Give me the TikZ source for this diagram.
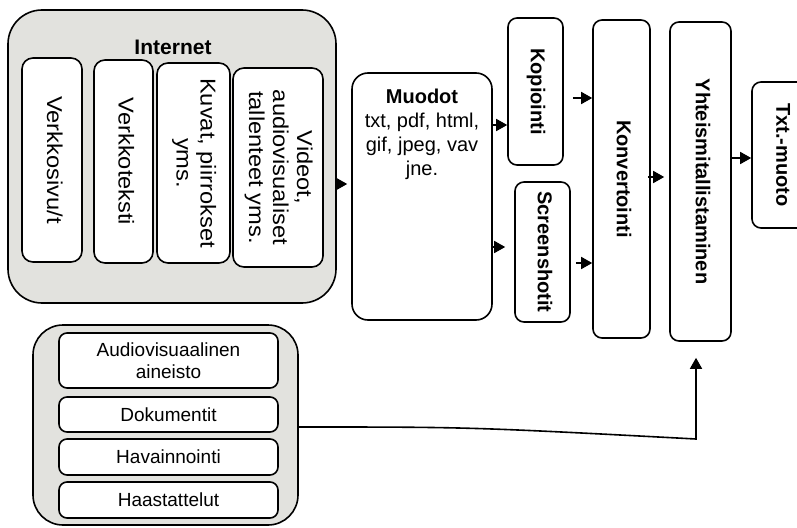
\documentclass[tikz,border=0pt]{standalone}
\usepackage{fontspec}
\setmainfont{Liberation Sans}
\newfontfamily\stretchfont[FakeStretch=1.1]{Liberation Sans}
\usetikzlibrary{arrows.meta}
\newcommand\myrot[1]{\rotatebox{-90}{\begin{tabular}{@{}c@{}}#1\end{tabular}}}
\definecolor{grpfill}{RGB}{226,226,222}
\begin{document}
\begin{tikzpicture}[x=1pt,y=-1pt,line width=1.6pt,
  every node/.style={font=\fontsize{20}{23}\selectfont},
  box/.style={draw, fill=white, rounded corners=9pt, inner sep=0pt, align=center},
  grp/.style={draw, fill=grpfill, inner sep=0pt},
  inner/.style={box, rounded corners=11pt, font=\stretchfont\fontsize{21.5}{24}\selectfont},
  bold/.style={box, font=\bfseries\fontsize{20}{23}\selectfont},
  src/.style={box, rounded corners=8pt, minimum width=219pt, font=\fontsize{19}{22}\selectfont},
  arr/.style={-{Triangle[length=11pt,width=12pt]}, line width=1.6pt}]
\useasboundingbox (0,0) rectangle (797,527);
% Internet group
\node[grp, rounded corners=34pt, minimum width=328pt, minimum height=293pt] (inet) at (172,156.5) {};
\node[font=\bfseries\fontsize{21}{24}\selectfont, inner sep=0pt] (inettitle) at (173,47) {Internet};
\node[inner, minimum width=60pt, minimum height=204pt] (verkkosivu) at (52,160) {\myrot{Verkkosivu/t}};
\node[inner, minimum width=59pt, minimum height=203pt] (verkkoteksti) at (123.5,161.5) {\myrot{Verkkoteksti}};
\node[inner, minimum width=73pt, minimum height=200pt] (kuvat) at (193.5,163) {\myrot{Kuvat, piirrokset\\yms.}};
\node[inner, minimum width=90pt, minimum height=199pt] (videot) at (278,167.5) {\myrot{Videot,\\audiovisualiset\\tallenteet yms.}};
% Muodot
\node[box, rounded corners=16pt, minimum width=140pt, minimum height=247pt] (muodot) at (422,196.5) {};
\node[anchor=north, align=center, inner sep=0pt, font=\fontsize{20}{24}\selectfont] (muodottext) at (422,88) {\textbf{Muodot}\\txt, pdf, html,\\gif, jpeg, vav\\jne.};
% process boxes
\node[bold, minimum width=55pt, minimum height=147pt] (kop) at (535.5,91.5) {\myrot{Kopiointi}};
\node[bold, minimum width=55pt, minimum height=140pt] (scr) at (542.5,252) {\myrot{Screenshotit}};
\node[bold, minimum width=57pt, minimum height=318pt] (konv) at (621.5,179) {\myrot{Konvertointi}};
\node[bold, minimum width=61pt, minimum height=319pt] (yht) at (700.5,181.5) {\myrot{Yhteismitallistaminen}};
\node[bold, minimum width=58pt, minimum height=146pt] (txt) at (781,155) {\myrot{Txt.-muoto}};
% arrows
\draw[arr, shorten >=4pt] (inet.east |- 0,184) -- (muodot.west |- 0,184);
\draw[arr] (muodot.east |- 0,125) -- (kop.west |- 0,125);
\draw[arr, shorten >=9pt] (muodot.east |- 0,247) -- (scr.west |- 0,247);
\draw[arr, shorten <=9pt] (kop.east |- 0,98) -- (konv.west |- 0,98);
\draw[arr, shorten <=5pt] (scr.east |- 0,263) -- (konv.west |- 0,263);
\draw[arr, shorten <=-3pt, shorten >=5pt] (konv.east |- 0,177) -- (yht.west |- 0,177);
\draw[arr] (yht.east |- 0,158) -- (txt.west |- 0,158);
% bottom group
\node[grp, rounded corners=30pt, minimum width=265pt, minimum height=200pt] (aineisto) at (165.5,425) {};
\node[src, minimum height=55pt] (audio) at (168.5,360.5) {Audiovisuaalinen\\aineisto};
\node[src, minimum height=35pt] (dok) at (168.5,414.5) {Dokumentit};
\node[src, minimum height=36pt] (hav) at (168.5,457) {Havainnointi};
\node[src, minimum height=36pt] (haas) at (168.5,500) {Haastattelut};
\coordinate (kulma) at (696,439);
\draw[arr] (aineisto.east |- 0,427) .. controls (470,427) .. (kulma) -- ([xshift=-4.5pt,yshift=-16pt]yht.south);
\end{tikzpicture}
\end{document}
